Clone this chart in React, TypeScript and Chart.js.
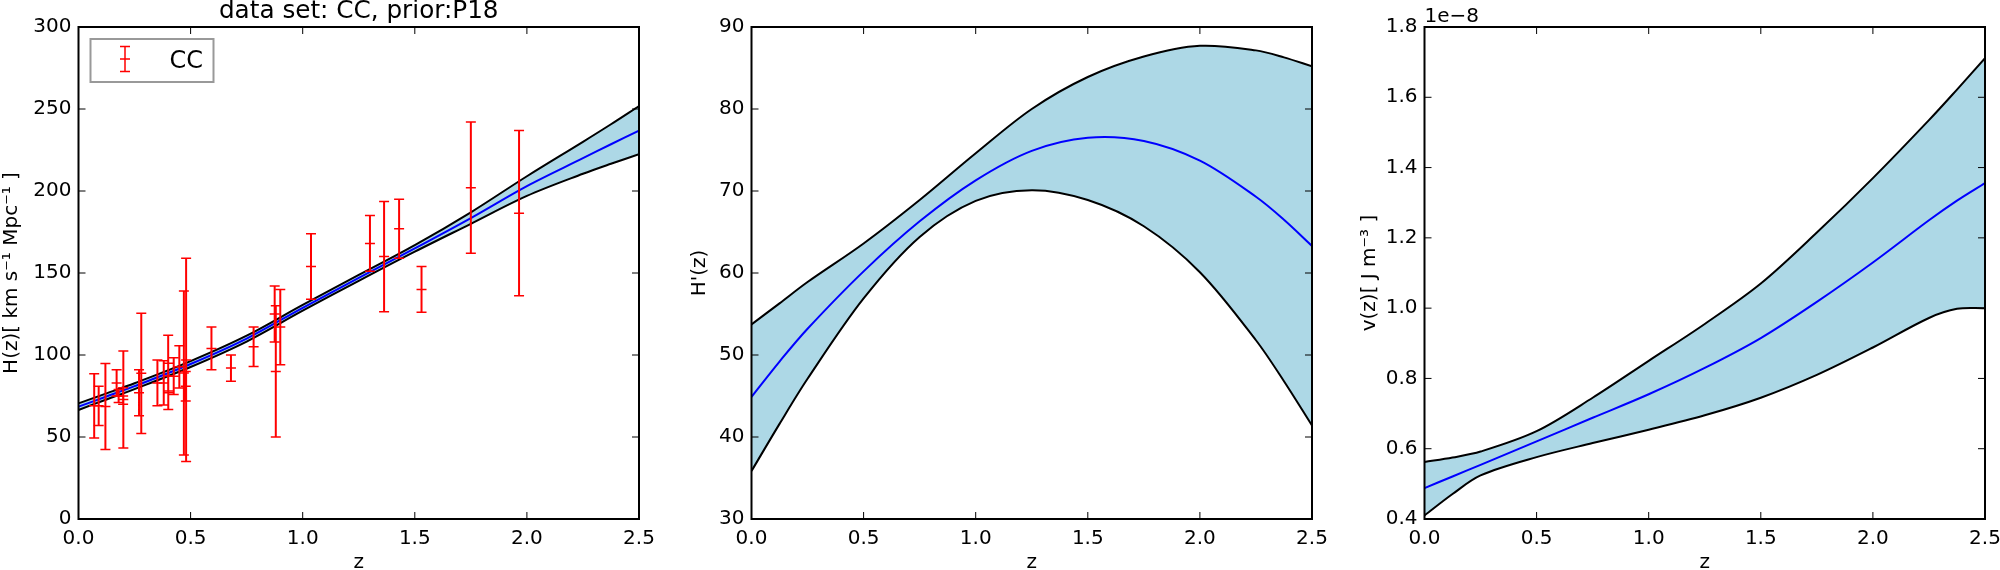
import { useEffect, useRef } from "react";
import { Chart, registerables } from "chart.js";

Chart.register(...registerables);
Chart.defaults.font.family = "'DejaVu Sans'";
Chart.defaults.color = "#000";

// CC measurements
const ccZ = [0.07, 0.09, 0.12, 0.17, 0.179, 0.199, 0.2, 0.27, 0.28, 0.352, 0.3802, 0.4, 0.4004, 0.4247, 0.4497, 0.47, 0.4783, 0.48, 0.593, 0.68, 0.781, 0.875, 0.88, 0.9, 1.037, 1.3, 1.363, 1.43, 1.53, 1.75, 1.965];
const ccH = [69, 69, 68.6, 83, 75, 75, 72.9, 77, 88.8, 83, 83, 95, 77, 87.1, 92.8, 89, 80.9, 97, 104, 92, 105, 125, 90, 117, 154, 168, 160, 177, 140, 202, 186.5];
const ccErr = [19.6, 12, 26.2, 8, 4, 5, 29.6, 14, 36.6, 14, 13.5, 17, 10.2, 11.2, 12.9, 50, 9, 62, 13, 8, 12, 17, 40, 23, 20, 17, 33.6, 18, 14, 40, 50.4];

const zGrid = [0, 0.125, 0.25, 0.5, 0.75, 1, 1.25, 1.5, 1.75, 2, 2.25, 2.375, 2.5];

const hMean = [68.5, 74.7, 81, 94.5, 110, 128.8, 147, 165, 183.5, 203, 220, 228.5, 236.8];
const hUpper = [70.5, 76.6, 82.8, 96.3, 111.8, 130.6, 148.8, 167, 187, 209, 230, 240.7, 251.8];
const hLower = [66.5, 72.9, 79.2, 92.7, 108.2, 127, 145.2, 163, 180, 197, 210.5, 216.6, 222.4];

const dhMean = [44.9, 49.2, 53.2, 60.2, 66.3, 71.3, 74.9, 76.5, 76.1, 73.7, 69.3, 66.5, 63.3];
const dhUpper = [53.74, 56.3, 58.9, 63.6, 68.9, 74.6, 80, 83.9, 86.4, 87.7, 87.15, 86.3, 85.2];
const dhLower = [35.85, 41.6, 47.1, 56.9, 64.4, 68.8, 70.1, 68.9, 65.7, 60.1, 51.8, 46.8, 41.4];

const vMean = [0.488, 0.521, 0.554, 0.621, 0.688, 0.755, 0.83, 0.915, 1.018, 1.13, 1.25, 1.306, 1.356];
const vUpper = [0.562, 0.575, 0.592, 0.65, 0.745, 0.85, 0.955, 1.07, 1.215, 1.37, 1.535, 1.622, 1.711];
const vLower = [0.41, 0.471, 0.524, 0.576, 0.616, 0.654, 0.695, 0.745, 0.81, 0.888, 0.972, 0.998, 1.0];

const pts = (ys: number[]) => zGrid.map((z, i) => ({ x: z, y: ys[i] }));

// one path for all error bars, NaN breaks it between points
const errorPts = ccZ.flatMap((z, i) => [
  { x: z, y: ccH[i] - ccErr[i] },
  { x: z, y: ccH[i] },
  { x: z, y: ccH[i] + ccErr[i] },
  { x: NaN, y: NaN },
]);

const PLOT_TOP = 27;
const PLOT_W = 561;
const PLOT_H = 492;
const PLOT_OFFSET = 78.5;

interface PanelProps {
  left: number; // canvas left in page
  labelPad: number;
  yLabel: string;
  yMin: number;
  yMax: number;
  yStep: number;
  digits: number;
  upper: number[];
  mean: number[];
  lower: number[];
  errorBars?: boolean;
  title?: string;
  offsetText?: string;
}

function Panel(props: PanelProps) {
  const ref = useRef<HTMLCanvasElement>(null);

  useEffect(() => {
    if (!ref.current) return;
    const p = props;

    // inward ticks on all four sides, the frame, and the matplotlib style extras
    const frame = {
      id: "frame",
      afterDatasetsDraw(chart: Chart) {
        const { ctx, chartArea: a, scales } = chart;
        ctx.save();
        ctx.strokeStyle = "#000";
        ctx.lineWidth = 1;
        for (const t of scales.x.ticks) {
          const x = scales.x.getPixelForValue(t.value);
          ctx.beginPath();
          ctx.moveTo(x, a.bottom);
          ctx.lineTo(x, a.bottom - 7);
          ctx.moveTo(x, a.top);
          ctx.lineTo(x, a.top + 7);
          ctx.stroke();
        }
        for (const t of scales.y.ticks) {
          const y = scales.y.getPixelForValue(t.value);
          ctx.beginPath();
          ctx.moveTo(a.left, y);
          ctx.lineTo(a.left + 7, y);
          ctx.moveTo(a.right, y);
          ctx.lineTo(a.right - 7, y);
          ctx.stroke();
        }
        ctx.lineWidth = 2;
        ctx.strokeRect(a.left, a.top, a.right - a.left, a.bottom - a.top);

        ctx.fillStyle = "#000";
        ctx.textBaseline = "alphabetic";
        if (p.title) {
          ctx.font = "24.7px 'DejaVu Sans'";
          ctx.textAlign = "center";
          ctx.fillText(p.title, (a.left + a.right) / 2, 18);
        }
        if (p.offsetText) {
          ctx.font = "20px 'DejaVu Sans'";
          ctx.textAlign = "left";
          ctx.fillText(p.offsetText, a.left, 22);
        }
        if (p.errorBars) {
          // legend box
          ctx.strokeStyle = "#999";
          ctx.lineWidth = 2;
          ctx.fillStyle = "#fff";
          ctx.fillRect(a.left + 12, a.top + 12, 123, 43);
          ctx.strokeRect(a.left + 12, a.top + 12, 123, 43);
          const cx = a.left + 46.5;
          ctx.strokeStyle = "#ff0000";
          ctx.lineWidth = 1.5;
          ctx.beginPath();
          ctx.moveTo(cx, a.top + 19.5);
          ctx.lineTo(cx, a.top + 44.5);
          for (const dy of [19.5, 32, 44.5]) {
            ctx.moveTo(cx - 5, a.top + dy);
            ctx.lineTo(cx + 5, a.top + dy);
          }
          ctx.stroke();
          ctx.fillStyle = "#000";
          ctx.font = "24px 'DejaVu Sans'";
          ctx.textAlign = "left";
          ctx.fillText("CC", a.left + 91, a.top + 41);
        }
        ctx.restore();
      },
    };

    const curve = { showLine: true, pointRadius: 0, borderWidth: 2, tension: 0.33 };

    const datasets: any[] = [
      { ...curve, label: "upper", data: pts(p.upper), borderColor: "#000", backgroundColor: "#add8e6", fill: "+1", order: 4 },
      { ...curve, label: "lower", data: pts(p.lower), borderColor: "#000", order: 3 },
      { ...curve, label: "mean", data: pts(p.mean), borderColor: "#0000ff", order: 2 },
    ];
    if (p.errorBars) {
      datasets.push({
        label: "CC",
        data: errorPts,
        showLine: true,
        borderColor: "#ff0000",
        borderWidth: 2,
        pointStyle: "line",
        pointRadius: 5,
        pointBorderColor: "#ff0000",
        pointBorderWidth: 1.5,
        order: 1,
      });
    }

    const chart = new Chart(ref.current, {
      type: "scatter",
      data: { datasets },
      plugins: [frame],
      options: {
        responsive: false,
        animation: false,
        layout: { padding: { left: p.labelPad, top: PLOT_TOP, right: 40, bottom: 0 } },
        plugins: { legend: { display: false }, tooltip: { enabled: false } },
        scales: {
          x: {
            type: "linear",
            min: 0,
            max: 2.5,
            grid: { display: false, drawTicks: false },
            border: { display: false },
            ticks: { stepSize: 0.5, padding: 8, maxRotation: 0, font: { size: 20 }, callback: (v: any) => Number(v).toFixed(1) },
            title: { display: true, text: "z", font: { size: 20 }, padding: { top: 6, bottom: -5 } },
            afterFit: (s: any) => {
              s.height = 570 - PLOT_TOP - PLOT_H;
            },
          },
          y: {
            type: "linear",
            min: p.yMin,
            max: p.yMax,
            grid: { display: false, drawTicks: false },
            border: { display: false },
            ticks: { stepSize: p.yStep, padding: 7, font: { size: 20 }, callback: (v: any) => Number(v).toFixed(p.digits) },
            title: { display: true, text: p.yLabel, font: { size: 20 }, padding: 0 },
            afterFit: (s: any) => {
              s.width = PLOT_OFFSET - p.labelPad;
            },
          },
        },
      },
    });

    return () => chart.destroy();
  }, []);

  return (
    <canvas
      ref={ref}
      width={PLOT_OFFSET + PLOT_W + 40}
      height={570}
      style={{ position: "absolute", left: props.left, top: 0 }}
    />
  );
}

export default function App() {
  return (
    <div style={{ position: "absolute", left: 0, top: 0, width: 2000, height: 570, overflow: "hidden", background: "#fff" }}>
      <Panel left={0} labelPad={0} yLabel="H(z)[ km s⁻¹ Mpc⁻¹ ]" yMin={0} yMax={300} yStep={50} digits={0}
        upper={hUpper} mean={hMean} lower={hLower} errorBars title="data set: CC, prior:P18" />
      <Panel left={673} labelPad={15} yLabel="H'(z)" yMin={30} yMax={90} yStep={10} digits={0}
        upper={dhUpper} mean={dhMean} lower={dhLower} />
      <Panel left={1346} labelPad={12} yLabel="v(z)[ J m⁻³ ]" yMin={0.4} yMax={1.8} yStep={0.2} digits={1}
        upper={vUpper} mean={vMean} lower={vLower} offsetText="1e−8" />
    </div>
  );
}
